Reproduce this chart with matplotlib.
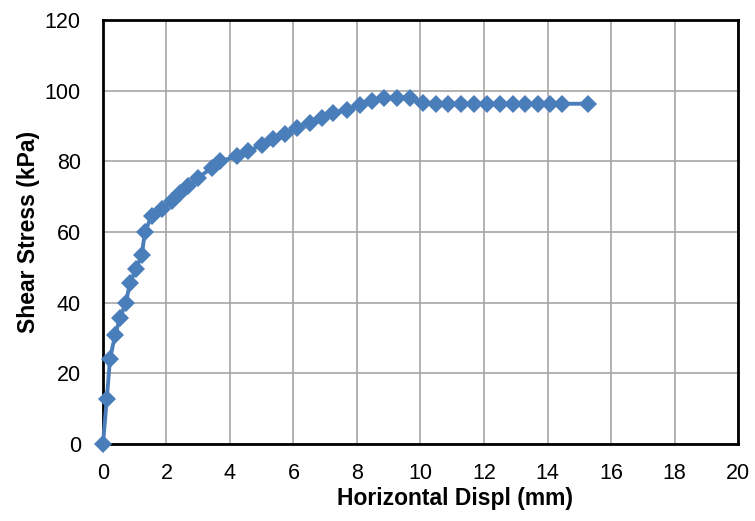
import matplotlib
matplotlib.use("Agg")
import matplotlib.pyplot as plt

# horizontal displacement (mm) and shear stress (kPa)
displ = [0.0, 0.12, 0.22, 0.38, 0.54, 0.72, 0.85, 1.04, 1.22, 1.32, 1.53, 1.85,
         2.16, 2.43, 2.69, 3.0, 3.42, 3.69, 4.21, 4.58, 5.0, 5.37, 5.73, 6.1,
         6.52, 6.89, 7.25, 7.68, 8.09, 8.46, 8.86, 9.25, 9.67, 10.09, 10.48,
         10.87, 11.27, 11.68, 12.08, 12.5, 12.9, 13.29, 13.69, 14.08, 14.47, 15.29]
stress = [0.0, 12.7, 24.0, 30.8, 35.8, 40.0, 45.5, 49.6, 53.4, 60.0, 64.5, 66.4,
          68.7, 71.1, 73.0, 75.3, 78.2, 80.0, 81.4, 82.9, 84.7, 86.2, 87.6, 89.5,
          90.9, 92.3, 93.7, 94.6, 96.0, 97.0, 97.8, 98.0, 97.8, 96.5, 96.3,
          96.3, 96.3, 96.3, 96.3, 96.3, 96.3, 96.3, 96.3, 96.3, 96.3, 96.3]

plt.rcParams["font.family"] = ["Liberation Sans", "DejaVu Sans"]

fig = plt.figure(figsize=(7.55, 5.21), dpi=100)
ax = fig.add_axes([0.1364, 0.1478, 0.8411, 0.8138])

ax.plot(displ, stress, color="#4a7ebb", linewidth=2.8, marker="D",
        markersize=9.5, markeredgewidth=0, zorder=3, clip_on=False)

ax.set_xlim(0, 20)
ax.set_ylim(0, 120)
ax.set_xticks(range(0, 21, 2))
ax.set_yticks(range(0, 121, 20))
ax.grid(True, color="#a6a6a6", linewidth=1.2)
ax.set_axisbelow(True)
for s in ax.spines.values():
    s.set_linewidth(2)
    s.set_color("black")
ax.tick_params(length=0, labelsize=15.5)
ax.tick_params(axis="x", pad=14)
ax.tick_params(axis="y", pad=16)

ax.set_xlabel("Horizontal Displ (mm)", fontsize=16.5, fontweight="bold")
ax.set_ylabel("Shear Stress (kPa)", fontsize=16.5, fontweight="bold", labelpad=3)
# excel put the x title a bit right of centre
ax.xaxis.set_label_coords(0.554, -0.102)

fig.savefig("out.png", dpi=100)
